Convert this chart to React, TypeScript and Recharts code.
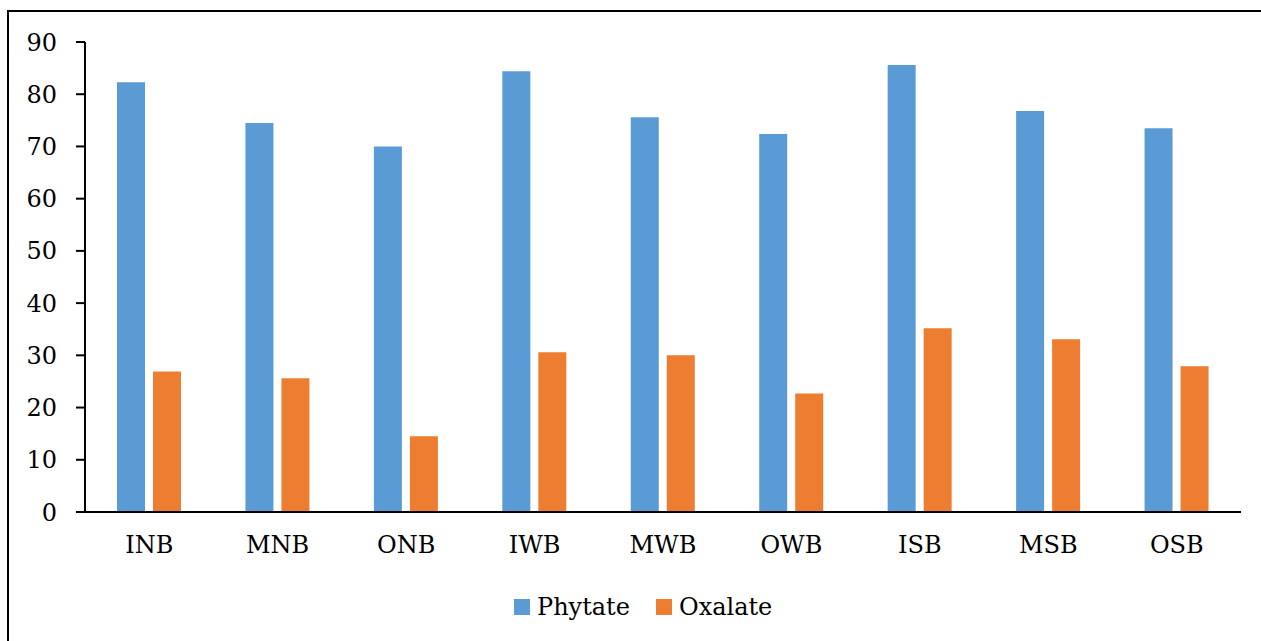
import React from 'react';
import { BarChart, Bar, XAxis, YAxis, Legend } from 'recharts';

const categories = ['INB', 'MNB', 'ONB', 'IWB', 'MWB', 'OWB', 'ISB', 'MSB', 'OSB'];
const phytate = [82.3, 74.5, 70.0, 84.4, 75.6, 72.4, 85.6, 76.8, 73.5];
const oxalate = [26.9, 25.6, 14.5, 30.6, 30.0, 22.7, 35.2, 33.1, 27.9];
const yTicks = [0, 10, 20, 30, 40, 50, 60, 70, 80, 90];
const seriesNames = ['Phytate', 'Oxalate'];
const colors = ['#5B9BD5', '#ED7D31'];

const data = categories.map((c, i) => ({ name: c, Phytate: phytate[i], Oxalate: oxalate[i] }));

const FONT = '"DejaVu Serif", "Liberation Serif", serif';

const LegendContent = () => (
  <div style={{ display: 'flex', alignItems: 'center', height: 36, paddingLeft: 514, fontFamily: FONT, fontSize: 24, color: '#000' }}>
    {seriesNames.map((n, i) => (
      <div key={n} style={{ display: 'flex', alignItems: 'center', marginRight: 26 }}>
        <div style={{ width: 16, height: 16, background: colors[i], marginRight: 7 }} />
        <span>{n}</span>
      </div>
    ))}
  </div>
);

export default function App() {
  return (
    <div style={{ position: 'absolute', left: 0, top: 0, width: 1261, height: 641, overflow: 'hidden', background: '#fff' }}>
      <div style={{ position: 'absolute', left: 7, top: 10, width: 1300, height: 700, border: '2px solid #000', boxSizing: 'border-box' }} />
      <div style={{ position: 'absolute', left: 0, top: 0 }}>
        <BarChart width={1261} height={641} data={data} margin={{ top: 42, right: 20, bottom: 16, left: 0 }} barSize={28} barGap={8}>
          <YAxis
            width={85}
            domain={[0, 90]}
            ticks={yTicks}
            interval={0}
            tickSize={9}
            tickMargin={19}
            axisLine={{ stroke: '#000', strokeWidth: 2 }}
            tickLine={{ stroke: '#000', strokeWidth: 2 }}
            tick={{ fill: '#000', fontSize: 24, fontFamily: FONT }}
          />
          <XAxis
            dataKey="name"
            height={77}
            tickSize={0}
            tickMargin={24}
            tickLine={false}
            axisLine={{ stroke: '#000', strokeWidth: 2 }}
            tick={{ fill: '#000', fontSize: 24, fontFamily: FONT }}
            interval={0}
          />
          <Legend verticalAlign="bottom" height={36} content={<LegendContent />} />
          <Bar dataKey="Phytate" fill={colors[0]} isAnimationActive={false} />
          <Bar dataKey="Oxalate" fill={colors[1]} isAnimationActive={false} />
        </BarChart>
      </div>
    </div>
  );
}
